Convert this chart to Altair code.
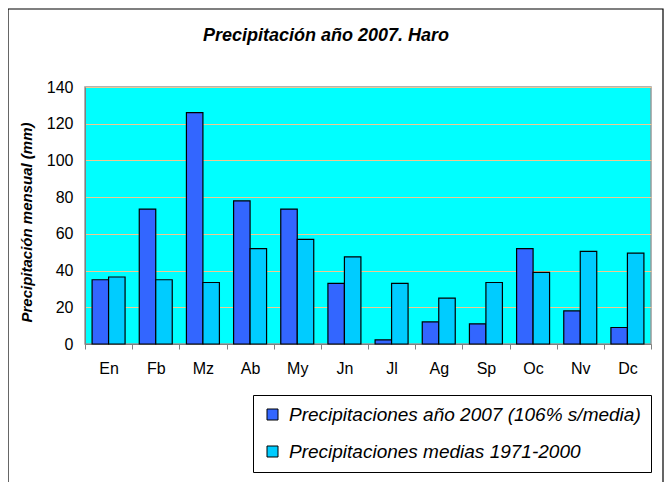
import altair as alt
import pandas as pd

meses = ["En", "Fb", "Mz", "Ab", "My", "Jn", "Jl", "Ag", "Sp", "Oc", "Nv", "Dc"]
p2007 = [35, 73.5, 126, 78, 73.5, 33, 2.3, 12, 11, 52, 18, 9]
media = [36.5, 35, 33.5, 52, 57, 47.5, 33, 25, 33.5, 39, 50.5, 49.5]
series = ["Precipitaciones año 2007 (106% s/media)", "Precipitaciones medias 1971-2000"]
colores = ["#3366FF", "#00CCFF"]
yticks = [0, 20, 40, 60, 80, 100, 120, 140]

rows = []
for m, a, b in zip(meses, p2007, media):
    rows.append({"mes": m, "serie": series[0], "valor": a})
    rows.append({"mes": m, "serie": series[1], "valor": b})
df = pd.DataFrame(rows)

FONT = "Liberation Sans"

bars = alt.Chart(df).mark_bar(stroke="black", strokeWidth=1.2).encode(
    x=alt.X("mes:N", sort=meses,
            scale=alt.Scale(paddingInner=0, paddingOuter=0),
            axis=alt.Axis(title=None, labelAngle=0, tickBand="extent", tickSize=5,
                          tickColor="#808080", domainColor="#808080",
                          labelFont=FONT, labelFontSize=16, labelColor="black",
                          labelPadding=11, grid=False)),
    xOffset=alt.XOffset("serie:N", sort=series,
                        scale=alt.Scale(paddingInner=0, paddingOuter=0.43)),
    y=alt.Y("valor:Q", scale=alt.Scale(domain=[0, 140]),
            axis=alt.Axis(values=yticks, title="Precipitación mensual (mm)",
                          titleFont=FONT, titleFontSize=15, titleFontStyle="italic",
                          titleFontWeight="bold", titleColor="black", titlePadding=12,
                          titleY=135,
                          labelFont=FONT, labelFontSize=16, labelColor="black",
                          labelPadding=12, ticks=False, domainColor="#808080",
                          gridColor="#F0C890", gridWidth=1, gridOpacity=1)),
    color=alt.Color("serie:N", sort=series,
                    scale=alt.Scale(domain=series, range=colores),
                    legend=alt.Legend(title=None, orient="none", legendX=168, legendY=308,
                                      strokeColor="black", fillColor="white", padding=10,
                                      symbolType="square", symbolSize=121,
                                      symbolStrokeColor="black", symbolStrokeWidth=1,
                                      symbolOpacity=1,
                                      labelFont=FONT, labelFontSize=19,
                                      labelFontStyle="italic", labelColor="black",
                                      rowPadding=17, labelOffset=7, labelLimit=500)),
)

border = alt.Chart(pd.DataFrame({"k": [0]})).mark_rect(
    fill="white", fillOpacity=0, stroke="black", strokeWidth=1.2
).encode(x=alt.value(-77), x2=alt.value(578), y=alt.value(-78), y2=alt.value(420))

chart = alt.layer(bars, border).properties(
    width=566, height=257,
    title=alt.TitleParams("Precipitación año 2007. Haro", font=FONT, fontSize=18,
                          fontStyle="italic", fontWeight="bold", color="black",
                          anchor="middle", dx=-42, offset=0, dy=37),
    autosize=alt.AutoSizeParams(type="none"),
    padding={"left": 77, "top": 79, "right": 13, "bottom": 138},
).configure_view(fill="#00FFFF", stroke="#999999", strokeWidth=1.5)

chart.save("out.html", embed_options={"renderer": "svg", "actions": False})
